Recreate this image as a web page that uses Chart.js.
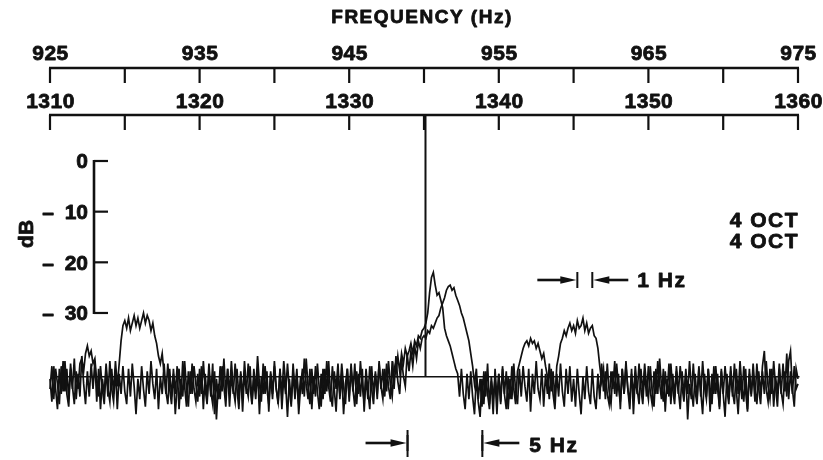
<!DOCTYPE html>
<html>
<head>
<meta charset="utf-8">
<title>FREQUENCY (Hz)</title>
<script src="https://cdn.jsdelivr.net/npm/chart.js@4/dist/chart.umd.min.js"></script>
<style>
  html, body { margin: 0; padding: 0; background: #ffffff; }
  canvas { display: block; }
</style>
</head>
<body>
<canvas id="spectrum" width="823" height="460"></canvas>
<script>
// Sampling grid of both spectra (Hz on the 925-975 scale)
const FREQ_START = 925;
const FREQ_STEP = 0.125;

// First 4 OCT record, level in dB (one row = 5 Hz)
const traceA = [
  -45, -40.5, -47, -41, -44, -48, -40.5, -45.5, -39.5, -46, -48.5, -41, -45, -39, -47, -42, -46.5, -38.5, -44, -48,
  -41.5, -46.5, -40, -45, -39.5, -47.5, -41, -49, -43, -46, -40, -45, -47.5, -41, -46, -39.5, -44.5, -40, -35.5, -32.5,
  -31.5, -33, -31, -33.5, -32, -30.5, -32.5, -31, -33, -31.5, -30, -32, -30.5, -31.5, -33.5, -32, -34.5, -36, -38.5, -40,
  -38, -42, -46, -40, -45, -48, -41, -46, -40.5, -49, -43, -46.5, -39.5, -45, -48.5, -41.5, -46, -40.5, -44, -47.5,
  -41, -46, -39.5, -45, -48, -41.5, -46.5, -40, -50, -43, -47, -40.5, -45.5, -39, -46, -41, -48.5, -42, -46, -40,
  -45, -49, -41.5, -47, -39.5, -44.5, -46.5, -40.5, -48, -41, -45.5, -38.5, -44, -47.5, -40, -46, -41.5, -49.5, -42, -47,
  -40.5, -45, -48, -41, -46.5, -39.5, -44, -50.5, -43, -47.5, -40, -45.5, -41, -48, -42.5, -46, -39, -44, -47, -41,
  -49, -42.5, -46.5, -40, -45, -48.5, -41, -46, -39.5, -44.5, -47.5, -40.5, -45, -49.5, -41.5, -46, -40, -44.5, -48, -41,
  -46.5, -40, -45, -48.5, -41.5, -46, -39.5, -44.5, -47.5, -41, -45.5, -49, -40.5, -46, -42, -47, -39.5, -45, -41, -46.5,
  -40, -44.5, -47, -39.5, -45, -38.5, -43.5, -46, -39, -42.5, -44.5, -38, -41.5, -37.5, -40.5, -36.5, -39, -35.5, -37, -35,
  -34.5, -35, -33.5, -34, -32.5, -33, -32, -31, -30.5, -29, -28, -27, -25.5, -24.8, -24.5, -25.5, -25, -26.5, -27.5, -28.5,
  -30, -31, -32.5, -34, -35.5, -38, -40.5, -44, -41, -47, -43, -48.5, -41.5, -46.5, -40, -48, -43.5, -50, -41, -47,
  -42, -48, -40.5, -46, -41.5, -49, -43, -47, -40, -45.5, -48, -41, -46.5, -40.5, -44.5, -47.5, -41, -49.5, -42, -46,
  -39.5, -45, -47, -41, -48.5, -42, -46, -40, -45.5, -41.5, -47, -40.5, -38.5, -36, -35, -33.5, -34.5, -33, -32, -33.5,
  -32.5, -34, -31.5, -33, -32.5, -31, -33.5, -32, -34, -33, -32.5, -34.5, -35, -37, -40.5, -43.5, -41, -47, -40, -45.5,
  -48, -41.5, -46, -40, -44.5, -47.5, -41, -46, -39.5, -45, -49, -42, -46.5, -40.5, -45, -48, -41, -46, -40, -44.5,
  -47, -40.5, -45.5, -48.5, -41, -46, -39, -44.5, -47.5, -41.5, -46, -40, -48, -42, -46.5, -40.5, -45, -49, -41.5, -46,
  -42, -51, -44, -47, -40, -45.5, -48, -41, -46.5, -39.5, -44.5, -47, -41, -49.5, -42, -46, -40.5, -45, -48.5, -41,
  -46, -50.5, -42, -47, -40.5, -45.5, -48, -41, -46, -39.5, -44.5, -47.5, -41, -49, -42, -46.5, -40, -45, -48, -41.5,
  -46, -40.5, -37.5, -45, -47.5, -41, -46, -39.5, -44.5, -48.5, -41, -46, -40, -45.5, -38, -47, -41.5, -46, -40.5, -45,
  -44
];

// Second 4 OCT record, level in dB (one row = 5 Hz)
const traceB = [
  -43, -47.5, -40.5, -45, -49, -41, -46, -39.5, -45.5, -41, -47, -40, -44.5, -48, -41.5, -45, -40, -39, -41.5, -38,
  -36.5, -38.5, -37.5, -40, -39, -43.5, -46.5, -40.5, -45, -48, -41, -46.5, -39.5, -45, -47.5, -41, -49, -42, -46, -40.5,
  -45.5, -48, -41, -46.5, -40, -44.5, -50, -43, -47, -40.5, -45, -48.5, -41.5, -46, -39.5, -44, -47, -41, -49, -42.5,
  -46, -40, -45.5, -48, -41, -46.5, -42, -50, -44.5, -41, -47, -39.5, -44.5, -48.5, -41.5, -46, -40, -45, -47.5, -42,
  -46.5, -40.5, -49, -42, -47, -40, -45.5, -48, -41.5, -51, -44, -47, -40.5, -44.5, -48.5, -41, -46, -39.5, -45, -47.5,
  -41, -46.5, -42, -49.5, -41.5, -46, -40, -44.5, -48, -43, -47, -41, -50, -42.5, -46, -40.5, -45, -48, -41.5, -46,
  -39.5, -45, -47.5, -41, -49, -42.5, -46, -40, -45, -48.5, -41.5, -47, -42, -50, -44.5, -41, -46.5, -39, -44.5, -48,
  -41, -46, -40.5, -45.5, -49, -42, -47, -41, -45.5, -39.5, -46, -48.5, -41.5, -45, -40, -47, -42, -50, -44, -41,
  -47.5, -41, -45.5, -40, -48, -42, -46.5, -41, -49.5, -42.5, -47, -40.5, -45, -48, -41.5, -46, -40, -44.5, -47, -41,
  -45.5, -39.5, -44, -46.5, -40.5, -42, -38.5, -41.5, -38, -40, -37, -38.5, -37.5, -36, -38, -35.5, -36.5, -34.5, -35, -33.5,
  -33, -32, -30, -26, -23, -22, -24.5, -26.5, -26, -27.5, -29, -33, -34.5, -35.5, -36.5, -38, -39.5, -41, -42, -46.5,
  -41, -46, -49, -42, -47, -41.5, -46.5, -50, -42.5, -47.5, -50.5, -43, -48, -41.5, -46, -49, -42.5, -47, -43, -50,
  -42, -47.5, -41, -46, -49, -42.5, -47, -40.5, -45, -48, -41.5, -40, -38.5, -37, -36, -35.5, -36.5, -35, -36, -35.5,
  -37, -36, -37.5, -39, -38, -40.5, -42.5, -47, -41, -46, -49, -42, -46.5, -40, -45.5, -48.5, -41, -46, -40.5, -47.5,
  -43, -48.5, -41, -46, -50, -42.5, -47, -40.5, -45.5, -48, -41, -46.5, -49, -42, -47, -40, -45.5, -41.5, -46, -48,
  -41.5, -45, -39.5, -46.5, -42, -49, -41, -46, -40.5, -45, -47.5, -41, -50, -42.5, -46, -40, -45, -48, -41.5, -46.5,
  -40.5, -45.5, -48, -41.5, -46, -39.5, -44, -47, -41, -49.5, -43, -46.5, -40, -45, -48, -41.5, -46, -40.5, -44.5, -47.5,
  -41, -46, -39.5, -45, -48.5, -42, -47, -40.5, -45.5, -50, -42, -46.5, -41, -45, -48, -40.5, -46, -42, -49, -41.5,
  -46, -40.5, -45, -48, -41.5, -46.5, -40, -45, -50, -42.5, -47, -40.5, -45.5, -49.5, -41, -46, -42, -47.5, -40, -45,
  -48, -41.5, -46, -39.5, -44.5, -47, -41, -48.5, -42.5, -46, -40, -45.5, -48, -41.5, -46.5, -39.5, -37.5, -45, -48.5, -41,
  -43
];

// Reference level, carrier line and axis ticks
const NOISE_FLOOR_DB = -42.6;
const CARRIER_HZ = 950.1;
const UPPER_TICKS = [925, 930, 935, 940, 945, 950, 955, 960, 965, 970, 975];
const UPPER_LABELS = [925, 935, 945, 955, 965, 975];
const LOWER_TICKS = [1310, 1315, 1320, 1325, 1330, 1335, 1340, 1345, 1350, 1355, 1360];
const LOWER_LABELS = [1310, 1320, 1330, 1340, 1350, 1360];
const DB_TICKS = [0, -10, -20, -30];
const RECORD_LABELS = ['4 OCT', '4 OCT'];
const SPAN_1HZ = [960.25, 961.25];
const SPAN_5HZ = [948.9, 953.9];

const INK = '#111111';
const FONT = '"Liberation Sans", Arial, Helvetica, sans-serif';

const freqs = traceA.map((_, i) => FREQ_START + i * FREQ_STEP);
const toPoints = (vals) => vals.map((v, i) => ({ x: freqs[i], y: v }));

// Heavy printed lettering: fill plus a thin outline
function ink(ctx, text, x, y) {
  ctx.fillText(text, x, y);
  ctx.strokeText(text, x, y);
}

function dart(ctx, tail, head, y) {
  const dir = head > tail ? 1 : -1;
  ctx.lineWidth = 2.6;
  ctx.beginPath();
  ctx.moveTo(tail, y);
  ctx.lineTo(head - dir * 12, y);
  ctx.stroke();
  ctx.beginPath();
  ctx.moveTo(head - dir * 1, y);
  ctx.lineTo(head - dir * 17, y - 3.8);
  ctx.lineTo(head - dir * 17, y + 3.8);
  ctx.closePath();
  ctx.fill();
  ctx.lineWidth = 2;
  ctx.beginPath();
  ctx.moveTo(head, y - 8);
  ctx.lineTo(head, y + 8);
  ctx.stroke();
}

const figureAxes = {
  id: 'figureAxes',
  afterDraw(chart) {
    const { ctx } = chart;
    const xs = chart.scales.x, x2 = chart.scales.x2, ys = chart.scales.y;
    ctx.save();
    ctx.fillStyle = INK;
    ctx.strokeStyle = INK;
    ctx.lineCap = 'butt';
    ctx.lineJoin = 'round';

    // Title
    ctx.font = 'bold 19px ' + FONT;
    ctx.letterSpacing = '1.5px';
    ctx.textAlign = 'center';
    ctx.textBaseline = 'alphabetic';
    ctx.lineWidth = 0.8;
    ink(ctx, 'FREQUENCY (Hz)', (xs.left + xs.right) / 2 - 2, 23);

    // Two stacked frequency scales, labels above the line, ticks hanging below
    const rows = [
      { scale: xs, ticks: UPPER_TICKS, labels: UPPER_LABELS, line: 68, base: 60 },
      { scale: x2, ticks: LOWER_TICKS, labels: LOWER_LABELS, line: 115, base: 108 }
    ];
    rows.forEach(r => {
      const x0 = r.scale.getPixelForValue(r.ticks[0]);
      const x1 = r.scale.getPixelForValue(r.ticks[r.ticks.length - 1]);
      ctx.lineWidth = 2.6;
      ctx.beginPath();
      ctx.moveTo(x0 - 1, r.line);
      ctx.lineTo(x1 + 1, r.line);
      ctx.stroke();
      ctx.lineWidth = 2.2;
      r.ticks.forEach(t => {
        const px = r.scale.getPixelForValue(t);
        ctx.beginPath();
        ctx.moveTo(px, r.line);
        ctx.lineTo(px, r.line + 15);
        ctx.stroke();
      });
      ctx.font = 'bold 21px ' + FONT;
      ctx.letterSpacing = '0.5px';
      ctx.lineWidth = 0.8;
      r.labels.forEach(t => {
        ink(ctx, String(t), r.scale.getPixelForValue(t) + 0.5, r.base);
      });
    });

    // Level scale
    const axX = 94;
    ctx.lineWidth = 2.6;
    ctx.beginPath();
    ctx.moveTo(axX, ys.getPixelForValue(DB_TICKS[0]) - 1);
    ctx.lineTo(axX, ys.getPixelForValue(DB_TICKS[DB_TICKS.length - 1]) + 1);
    ctx.stroke();
    ctx.font = 'bold 21px ' + FONT;
    ctx.letterSpacing = '0px';
    DB_TICKS.forEach(v => {
      const py = ys.getPixelForValue(v);
      ctx.lineWidth = 2.2;
      ctx.beginPath();
      ctx.moveTo(axX, py);
      ctx.lineTo(axX + 14, py);
      ctx.stroke();
      ctx.lineWidth = 0.8;
      ctx.textAlign = 'right';
      ink(ctx, String(Math.abs(v)), 88, py + 7.5);
      if (v < 0) {
        ctx.textAlign = 'center';
        ink(ctx, '\u2013', 48, py + 7.5);
      }
    });

    // Axis name
    ctx.save();
    ctx.translate(33, ys.getPixelForValue(-14.4));
    ctx.rotate(-Math.PI / 2);
    ctx.textAlign = 'center';
    ink(ctx, 'dB', 0, 0);
    ctx.restore();

    // Record labels
    ctx.textAlign = 'right';
    ctx.letterSpacing = '1.5px';
    ink(ctx, RECORD_LABELS[0], xs.getPixelForValue(975) + 1, 227);
    ink(ctx, RECORD_LABELS[1], xs.getPixelForValue(975) + 1, 248);

    // Resolution markers
    ctx.letterSpacing = '1.5px';
    ctx.textAlign = 'left';
    const a1 = xs.getPixelForValue(SPAN_1HZ[0]);
    const b1 = xs.getPixelForValue(SPAN_1HZ[1]);
    dart(ctx, a1 - 40, a1, 280);
    dart(ctx, b1 + 36, b1, 280);
    ctx.lineWidth = 0.8;
    ink(ctx, '1 Hz', b1 + 45, 287);

    const a5 = xs.getPixelForValue(SPAN_5HZ[0]);
    const b5 = xs.getPixelForValue(SPAN_5HZ[1]);
    dart(ctx, a5 - 42, a5, 443);
    ctx.lineWidth = 2;
    ctx.beginPath();
    ctx.moveTo(a5, 430);
    ctx.lineTo(a5, 457);
    ctx.stroke();
    dart(ctx, b5 + 37, b5, 443);
    ctx.lineWidth = 2;
    ctx.beginPath();
    ctx.moveTo(b5, 430);
    ctx.lineTo(b5, 457);
    ctx.stroke();
    ctx.lineWidth = 0.8;
    ink(ctx, '5 Hz', b5 + 47, 452);

    ctx.restore();
  }
};

const lineStyle = {
  borderColor: INK,
  backgroundColor: INK,
  pointRadius: 0,
  fill: false,
  tension: 0,
  clip: false
};

new Chart(document.getElementById('spectrum'), {
  type: 'line',
  data: {
    datasets: [
      Object.assign({ label: '4 OCT', data: toPoints(traceA), borderWidth: 1.7 }, lineStyle),
      Object.assign({ label: '4 OCT', data: toPoints(traceB), borderWidth: 1.7 }, lineStyle),
      Object.assign({ label: 'floor', data: [{ x: 925.1, y: NOISE_FLOOR_DB }, { x: 975.1, y: NOISE_FLOOR_DB }], borderWidth: 1.6 }, lineStyle),
      Object.assign({ label: 'carrier', data: [{ x: CARRIER_HZ, y: 9 }, { x: CARRIER_HZ, y: NOISE_FLOOR_DB }], borderWidth: 2 }, lineStyle)
    ]
  },
  options: {
    responsive: false,
    animation: false,
    devicePixelRatio: 1,
    layout: { padding: { left: 50, right: 25, top: 115.4, bottom: 30.5 } },
    plugins: { legend: { display: false }, tooltip: { enabled: false } },
    scales: {
      x: { type: 'linear', min: 925, max: 975, display: false },
      x2: { type: 'linear', min: 1310, max: 1360, display: false },
      y: { type: 'linear', min: -53, max: 9, display: false }
    }
  },
  plugins: [figureAxes]
});
</script>
</body>
</html>
